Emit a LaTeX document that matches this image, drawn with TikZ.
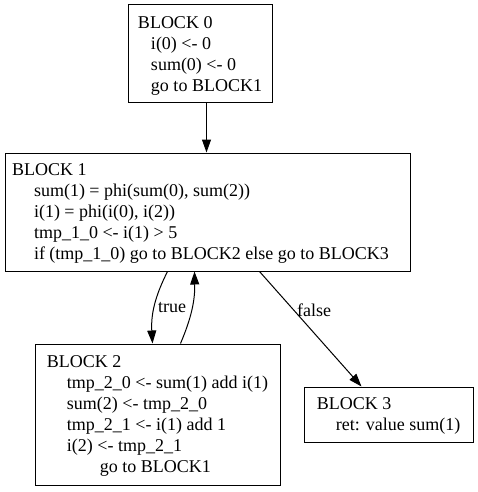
\documentclass[tikz,border=0pt]{standalone}
\usepackage{fontspec}
\setmainfont{Liberation Serif}
\usetikzlibrary{arrows.meta,positioning}
\tikzset{
	blockbox/.style={draw=black, line width=1pt, align=left, inner sep=0pt, text depth=0pt, font=\fontsize{18}{21}\selectfont},
	edge/.style={black, line width=1pt, -{Triangle[length=13pt,width=9pt]}},
	lbl/.style={font=\fontsize{18}{21}\selectfont, inner sep=1pt}
}
\begin{document}
\begin{tikzpicture}[x=1pt, y=-1pt]
\useasboundingbox (0,0) rectangle (477,492);
\node[blockbox, minimum width=144, minimum height=98] (block0) at (200,54) {BLOCK 0\\
	\hspace*{13pt}i(0) <- 0\\
	\hspace*{13pt}sum(0) <- 0\\
	\hspace*{13pt}go to BLOCK1};
\node[blockbox, minimum width=405, minimum height=118] (block1) at (207.5,212) {BLOCK 1\\
	\hspace*{22pt}sum(1) = phi(sum(0), sum(2))\\
	\hspace*{22pt}i(1) = phi(i(0), i(2))\\
	\hspace*{22pt}tmp\_1\_0 <- i(1) > 5\\
	\hspace*{22pt}if (tmp\_1\_0) go to BLOCK2 else go to BLOCK3\hspace*{14pt}};
\node[blockbox, minimum width=245, minimum height=141] (block2) at (157.5,414.5) {BLOCK 2\\
	\hspace*{20pt}tmp\_2\_0 <- sum(1) add i(1)\\
	\hspace*{20pt}sum(2) <- tmp\_2\_0\\
	\hspace*{20pt}tmp\_2\_1 <- i(1) add 1\\
	\hspace*{20pt}i(2) <- tmp\_2\_1\\
	\hspace*{53pt}go to BLOCK1};
\node[blockbox, minimum width=169, minimum height=55] (block3) at (388.5,414.5) {BLOCK 3\\
	\hspace*{19pt}ret: value sum(1)};
% edges
\draw[edge] ([xshift=79pt]block0.south west) -- ([xshift=202pt]block1.north west);
\draw[edge] ([xshift=163pt]block1.south west) to[bend right=15] ([xshift=118pt]block2.north west);
\draw[edge] ([xshift=146pt]block2.north west) to[bend right=12] ([xshift=190pt]block1.south west);
\draw[edge] ([xshift=255pt]block1.south west) -- ([xshift=58pt]block3.north west);
\node[lbl] (truelbl) at (172,308) {true};
\node[lbl] (falselbl) at (314,310) {false};
\end{tikzpicture}
\end{document}
